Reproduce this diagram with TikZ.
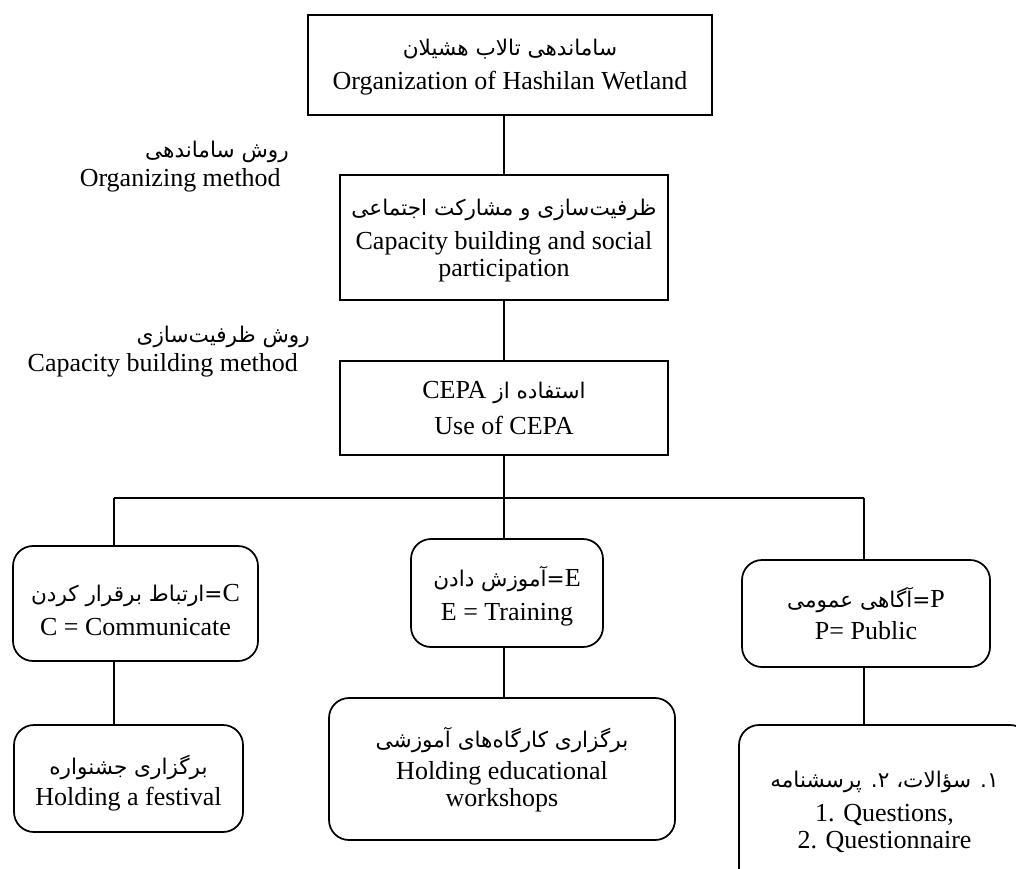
\documentclass[tikz,border=0pt]{standalone}
\usepackage{fontspec}
\setmainfont{Liberation Serif}
\newfontfamily\farsifont[Script=Arabic,Scale=0.83]{DejaVu Sans}
\TeXXeTstate=1
\newcommand{\fatxt}[1]{{\farsifont\beginR #1\endR}}
\begin{document}
\begin{tikzpicture}[x=0.75pt,y=-0.75pt,
  every node/.style={font=\fontsize{19.5pt}{20.6pt}\selectfont, inner sep=0pt, align=center},
  sqbox/.style={draw, line width=1.3pt, minimum width=#1},
  rbox/.style={draw, line width=1.3pt, rounded corners=15pt, minimum width=#1},
  conn/.style={line width=1.3pt}]
\useasboundingbox (0,0) rectangle (1016,868);
\clip (0,0) rectangle (1016,868);

% boxes
\node[sqbox=303pt, minimum height=75pt] (top) at (510,65) {};
\node[sqbox=246pt, minimum height=93.75pt] (cap) at (504,237.5) {};
\node[sqbox=246pt, minimum height=70.5pt] (cepa) at (504,408) {};
\node[rbox=183.75pt, minimum height=86.25pt] (comm) at (135.5,603.5) {};
\node[rbox=144pt, minimum height=81pt] (train) at (507,593) {};
\node[rbox=186pt, minimum height=80.25pt] (pub) at (866,613.5) {};
\node[rbox=171.75pt, minimum height=80.25pt] (fest) at (128.5,778.5) {};
\node[rbox=259.5pt, minimum height=106.5pt] (work) at (502,769) {};
\node[rbox=218.25pt, minimum height=127.5pt] (quest) at (884.5,810) {};

% texts
\node (toptxt) at ([yshift=-1.9pt]top.center)
  {\fatxt{ساماندهی تالاب هشیلان}\\[5pt] Organization of Hashilan Wetland};
\node (captxt) at ([yshift=-2.3pt]cap.center)
  {\fatxt{ظرفیت‌سازی و مشارکت اجتماعی}\\[5pt] Capacity building and social\\ participation};
\node (cepatxt) at (cepa.center)
  {\fatxt{استفاده از \beginL{\rmfamily CEPA}\endL}\\[7pt] Use of CEPA};
\node (commtxt) at ([yshift=-4.9pt]comm.center)
  {\fatxt{{\rmfamily C}=ارتباط برقرار کردن}\\[5pt] C = Communicate};
\node (traintxt) at ([yshift=-2.3pt]train.center)
  {\fatxt{{\rmfamily E}=آموزش دادن}\\[5pt] E = Training};
\node (pubtxt) at (pub.center)
  {\fatxt{{\rmfamily P}=آگاهی عمومی}\\[4pt] P= Public};
\node (festtxt) at ([yshift=-3.4pt]fest.center)
  {\fatxt{برگزاری جشنواره}\\[3pt] Holding a festival};
\node (worktxt) at ([yshift=-0.8pt]work.center)
  {\fatxt{برگزاری کارگاه‌های آموزشی}\\[3pt] Holding educational\\ workshops};
\node (questtxt) at ([yshift=-1.5pt]quest.center)
  {\fatxt{۱. سؤالات، ۲. پرسشنامه}\\[5pt] 1. Questions,\\ 2. Questionnaire};

% side labels
\node[anchor=east] (lab1fa) at (289,152) {\fatxt{روش ساماندهی}};
\node[anchor=east] (lab1en) at (281,180) {Organizing method};
\node[anchor=east] (lab2fa) at (310,337) {\fatxt{روش ظرفیت‌سازی}};
\node[anchor=east] (lab2en) at (298,365) {Capacity building method};

% connectors
\coordinate (busL) at (114,498);
\coordinate (busM) at (504,498);
\coordinate (busR) at (864,498);

\draw[conn] (cap.north |- top.south) -- (cap.north);
\draw[conn] (cap.south) -- (cepa.north);
\draw[conn] (cepa.south) -- (busM);
\draw[conn] (busL) -- (busR);
\draw[conn] (busL) -- (busL |- comm.north);
\draw[conn] (busM) -- (busM |- train.north);
\draw[conn] (busR) -- (busR |- pub.north);
\draw[conn] (comm.south -| busL) -- (busL |- fest.north);
\draw[conn] (train.south -| busM) -- (busM |- work.north);
\draw[conn] (pub.south -| busR) -- (busR |- quest.north);
\end{tikzpicture}
\end{document}
